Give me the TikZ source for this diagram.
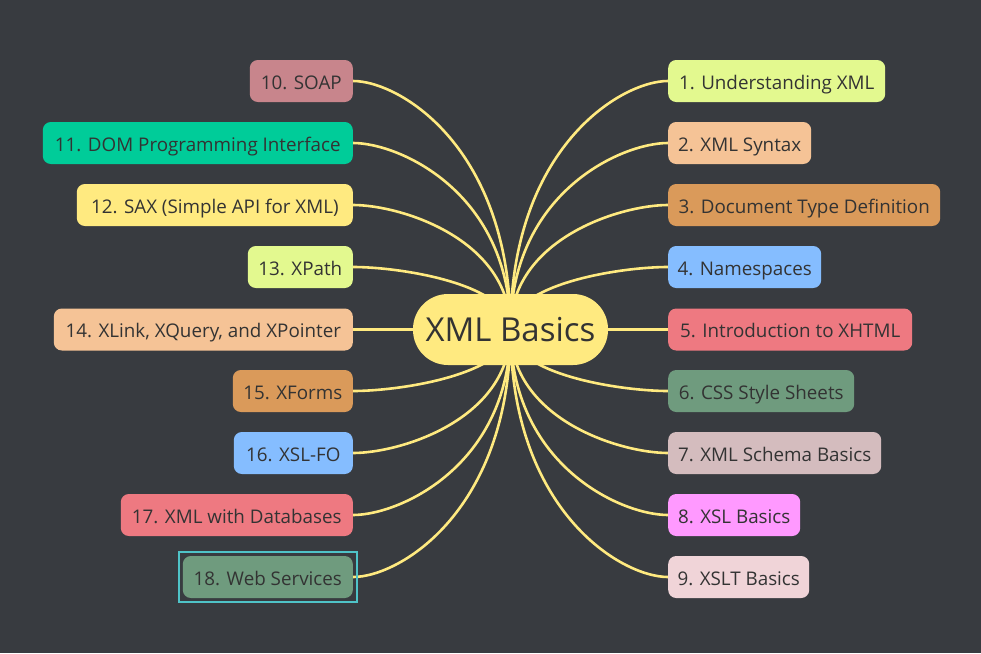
\documentclass[tikz,border=0pt]{standalone}
\usepackage{fontspec}
\setmainfont{Open Sans}
\usetikzlibrary{calc,backgrounds}
\definecolor{bgc}{HTML}{383B40}
\definecolor{linec}{HTML}{FFEA80}
\definecolor{txt}{HTML}{333333}
\definecolor{selc}{HTML}{4FC3C8}
\definecolor{cyel}{HTML}{FFEA80}
\definecolor{clime}{HTML}{E3F98F}
\definecolor{cpeach}{HTML}{F5C396}
\definecolor{corange}{HTML}{DA9A5A}
\definecolor{cblue}{HTML}{85BDFF}
\definecolor{cred}{HTML}{EE7981}
\definecolor{cgreen}{HTML}{6F9B7E}
\definecolor{cmauve}{HTML}{D4BCBE}
\definecolor{cpink}{HTML}{FF99FF}
\definecolor{cblush}{HTML}{F0D4D8}
\definecolor{crose}{HTML}{C8858C}
\definecolor{cteal}{HTML}{00CC99}
\newcommand\mmlink[1]{\draw[link] (c.center) .. controls ($(c.center)!0.73!(c.center|-#1)$) and ($(c.center|-#1)!0.7!(#1)$) .. (#1);}
\begin{document}
\begin{tikzpicture}[x=1pt,y=-1pt,
  topic/.style={rounded corners=8pt, minimum height=42pt, inner xsep=0pt, inner ysep=0pt,
    text height=16.5pt, text depth=0pt, font=\fontsize{18.8}{21}\selectfont, text=txt},
  rtopic/.style={topic, anchor=west},
  ltopic/.style={topic, anchor=east},
  link/.style={draw=linec, line width=2.6pt},
  central/.style={fill=cyel, rounded corners=35pt, minimum width=195pt, minimum height=71pt,
    inner sep=0pt, text height=24pt, text depth=0pt, font=\fontsize{33}{36}\selectfont, text=txt}]
\useasboundingbox (0,0) rectangle (981,653);
\node[central] (c) at (510.5,329.5) {XML Basics};
% right
\node[rtopic, fill=clime,   minimum width=217pt] (n1) at (668,81)  {1. Understanding XML};
\node[rtopic, fill=cpeach,  minimum width=143pt] (n2) at (668,143) {2. XML Syntax};
\node[rtopic, fill=corange, minimum width=272pt] (n3) at (668,205) {3. Document Type Definition};
\node[rtopic, fill=cblue,   minimum width=153pt] (n4) at (668,267) {4. Namespaces};
\node[rtopic, fill=cred,    minimum width=244pt] (n5) at (668,329.5) {5. Introduction to XHTML};
\node[rtopic, fill=cgreen,  minimum width=186pt] (n6) at (668,391) {6. CSS Style Sheets};
\node[rtopic, fill=cmauve,  minimum width=213pt] (n7) at (668,453) {7. XML Schema Basics};
\node[rtopic, fill=cpink,   minimum width=132pt] (n8) at (668,515) {8. XSL Basics};
\node[rtopic, fill=cblush,  minimum width=141pt] (n9) at (668,577) {9. XSLT Basics};
% left
\node[ltopic, fill=crose,   minimum width=103pt] (n10) at (353,81)  {10. SOAP};
\node[ltopic, fill=cteal,   minimum width=310pt] (n11) at (353,143) {11. DOM Programming Interface};
\node[ltopic, fill=cyel,    minimum width=276pt] (n12) at (353,205) {12. SAX (Simple API for XML)};
\node[ltopic, fill=clime,   minimum width=105pt] (n13) at (353,267) {13. XPath};
\node[ltopic, fill=cpeach,  minimum width=299pt] (n14) at (353,329.5) {14. XLink, XQuery, and XPointer};
\node[ltopic, fill=corange, minimum width=120pt] (n15) at (353,391) {15. XForms};
\node[ltopic, fill=cblue,   minimum width=119pt] (n16) at (353,453) {16. XSL-FO};
\node[ltopic, fill=cred,    minimum width=232pt] (n17) at (353,515) {17. XML with Databases};
\node[ltopic, fill=cgreen,  minimum width=170pt] (n18) at (353,577) {18. Web Services};
\draw[selc, line width=2pt] ($(n18.north west)+(-3.5,-3.5)$) rectangle ($(n18.south east)+(3.5,3.5)$);
\begin{scope}[on background layer]
\fill[bgc] (0,0) rectangle (981,653);
\mmlink{n1.west}\mmlink{n2.west}\mmlink{n3.west}\mmlink{n4.west}\mmlink{n5.west}
\mmlink{n6.west}\mmlink{n7.west}\mmlink{n8.west}\mmlink{n9.west}
\mmlink{n10.east}\mmlink{n11.east}\mmlink{n12.east}\mmlink{n13.east}\mmlink{n14.east}
\mmlink{n15.east}\mmlink{n16.east}\mmlink{n17.east}\mmlink{n18.east}
\end{scope}
\end{tikzpicture}
\end{document}
